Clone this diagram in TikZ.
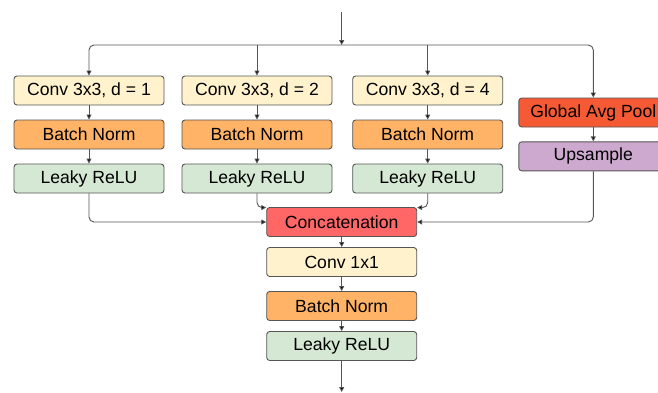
\documentclass[tikz,border=0pt]{standalone}
\usepackage{fontspec}
\setmainfont{Liberation Sans}
\usetikzlibrary{arrows.meta,positioning,calc}

\definecolor{convfill}{HTML}{FFF2CC}
\definecolor{bnfill}{HTML}{FFB366}
\definecolor{relufill}{HTML}{D5E8D4}
\definecolor{catfill}{HTML}{FF6666}
\definecolor{poolfill}{HTML}{F65A35}
\definecolor{upfill}{HTML}{CDA9CF}
\definecolor{edge}{HTML}{555555}

\tikzset{
  blockbox/.style={draw=edge, line width=0.9pt, rounded corners=3pt,
    minimum width=150pt, minimum height=29pt, inner sep=0pt,
    font=\fontsize{17.6}{20}\selectfont, text=black},
  convbox/.style={blockbox, fill=convfill},
  bnbox/.style={blockbox, fill=bnfill},
  relubox/.style={blockbox, fill=relufill},
  catbox/.style={blockbox, fill=catfill},
  poolbox/.style={blockbox, fill=poolfill, minimum width=149pt},
  upbox/.style={blockbox, fill=upfill, minimum width=149pt},
  link/.style={draw=edge, line width=0.9pt, rounded corners=5pt,
    -{Triangle[length=5pt,width=5pt,fill=black]}},
}

\begin{document}
\begin{tikzpicture}[x=1pt,y=-1pt]
\useasboundingbox (0,0) rectangle (658,392);
\clip (0,0) rectangle (658,392);

% dilated convolution branches
\node[convbox] (c1) at (89,90.5) {Conv 3x3, d = 1};
\node[bnbox]   (b1) at (89,134.5) {Batch Norm};
\node[relubox] (r1) at (89,178.5) {Leaky ReLU};

\node[convbox] (c2) at (257,90.5) {Conv 3x3, d = 2};
\node[bnbox]   (b2) at (257,134.5) {Batch Norm};
\node[relubox] (r2) at (257,178.5) {Leaky ReLU};

\node[convbox] (c3) at (427.7,90.5) {Conv 3x3, d = 4};
\node[bnbox]   (b3) at (427.7,134.5) {Batch Norm};
\node[relubox] (r3) at (427.7,178.5) {Leaky ReLU};

% image pooling branch
\node[poolbox] (gp) at (593.3,112.5) {Global Avg Pool};
\node[upbox]   (up) at (593.3,156.3) {Upsample};

% fusion
\node[catbox]  (cat) at (341.7,222) {Concatenation};
\node[convbox] (c4)  at (341.7,262) {Conv 1x1};
\node[bnbox]   (b4)  at (341.7,306) {Batch Norm};
\node[relubox] (r4)  at (341.7,346) {Leaky ReLU};

\coordinate (in)    at (341.7,12);
\coordinate (split) at (341.7,45);
\coordinate (out)   at (341.7,392);

% input fan-out
\draw[link] (in) -- (split);
\draw[link] (split) -| (c1.north);
\draw[link] (split) -| (gp.north);
\draw[link] (c2.north |- split) -- (c2.north);
\draw[link] (c3.north |- split) -- (c3.north);

% within branches
\draw[link] (c1) -- (b1);
\draw[link] (b1) -- (r1);
\draw[link] (c2) -- (b2);
\draw[link] (b2) -- (r2);
\draw[link] (c3) -- (b3);
\draw[link] (b3) -- (r3);
\draw[link] (gp) -- (up);

% into concatenation
\draw[link] (r1.south) |- (cat.west);
\draw[link] (r2.south) |- ([yshift=-0.5pt]cat.north west);
\draw[link] (r3.south) |- ([yshift=-0.5pt]cat.north east);
\draw[link] (up.south) |- (cat.east);

% fusion head
\draw[link] (cat) -- (c4);
\draw[link] (c4) -- (b4);
\draw[link] (b4) -- (r4);
\draw[link] (r4) -- (out);
\end{tikzpicture}
\end{document}
